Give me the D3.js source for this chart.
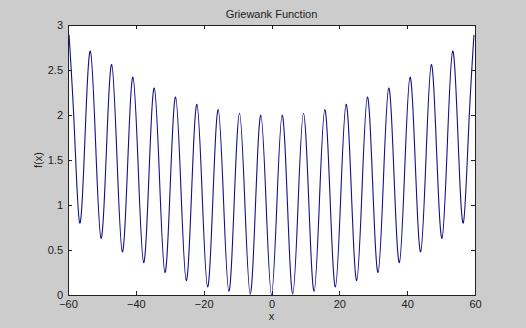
<!DOCTYPE html>
<html><head><meta charset="utf-8">
<script src="https://cdn.jsdelivr.net/npm/d3@7"></script>
<style>body{margin:0;background:#cccccc;}svg{display:block;}</style>
</head><body>
<script>
const xValues = [-59.69,-58.12,-56.55,-54.98,-53.41,-51.84,-50.27,-48.69,-47.12,-45.55,-43.98,-42.41,-40.84,-39.27,-37.70,-36.13,-34.56,-32.99,-31.42,-29.85,-28.27,-26.70,-25.13,-23.56,-21.99,-20.42,-18.85,-17.28,-15.71,-14.14,-12.57,-11.00,-9.42,-7.85,-6.28,-4.71,-3.14,-1.57,0,1.57,3.14,4.71,6.28,7.85,9.42,11.00,12.57,14.14,15.71,17.28,18.85,20.42,21.99,23.56,25.13,26.70,28.27,29.85,31.42,32.99,34.56,36.13,37.70,39.27,40.84,42.41,43.98,45.55,47.12,48.69,50.27,51.84,53.41,54.98,56.55,58.12,59.69];
const yValues = [2.89,1.84,0.80,1.76,2.71,1.67,0.63,1.59,2.56,1.52,0.48,1.45,2.42,1.39,0.36,1.33,2.30,1.27,0.25,1.22,2.20,1.18,0.16,1.14,2.12,1.10,0.09,1.07,2.06,1.05,0.04,1.03,2.02,1.02,0.01,1.01,2.00,1.00,0,1.00,2.00,1.01,0.01,1.02,2.02,1.03,0.04,1.05,2.06,1.07,0.09,1.10,2.12,1.14,0.16,1.18,2.20,1.22,0.25,1.27,2.30,1.33,0.36,1.39,2.42,1.45,0.48,1.52,2.56,1.59,0.63,1.67,2.71,1.76,0.80,1.84,2.89];
const xTicks = [-60,-40,-20,0,20,40,60];
const yTicks = [0,0.5,1,1.5,2,2.5,3];
const yTickLabels = ["0","0.5","1","1.5","2","2.5","3"];
const titleText = "Griewank Function";
const xLabel = "x";
const yLabel = "f(x)";

const W = 526, H = 328;
const L = 68, R = 475, T = 25, B = 295;
const svg = d3.select("body").append("svg").attr("width", W).attr("height", H);
svg.append("rect").attr("width", W).attr("height", H).attr("fill", "#cccccc");
svg.append("rect").attr("x", L).attr("y", T).attr("width", R - L).attr("height", B - T).attr("fill", "#ffffff");

const x = d3.scaleLinear().domain([-60, 60]).range([L, R]);
const y = d3.scaleLinear().domain([0, 3]).range([B, T]);

const font = "Liberation Sans, Arial, sans-serif";

svg.append("clipPath").attr("id", "c").append("rect")
  .attr("x", L).attr("y", T).attr("width", R - L).attr("height", B - T);

const pts = xValues.map((v, i) => [v, yValues[i]]);
svg.append("path").datum(pts)
  .attr("clip-path", "url(#c)")
  .attr("fill", "none").attr("stroke", "#10108a").attr("stroke-width", 1.1)
  .attr("d", d3.line().x(d => x(d[0])).y(d => y(d[1])).curve(d3.curveNatural));

const tk = 4;
const gB = svg.append("g").attr("transform", `translate(0,${B})`)
  .call(d3.axisBottom(x).tickValues(xTicks).tickSize(-tk).tickPadding(5).tickSizeOuter(0));
const gT = svg.append("g").attr("transform", `translate(0,${T})`)
  .call(d3.axisTop(x).tickValues(xTicks).tickSize(-tk).tickFormat("").tickSizeOuter(0));
const gL = svg.append("g").attr("transform", `translate(${L},0)`)
  .call(d3.axisLeft(y).tickValues(yTicks).tickFormat((d, i) => yTickLabels[i]).tickSize(-tk).tickPadding(5).tickSizeOuter(0));
const gR = svg.append("g").attr("transform", `translate(${R},0)`)
  .call(d3.axisRight(y).tickValues(yTicks).tickSize(-tk).tickFormat("").tickSizeOuter(0));
[gB, gT, gL, gR].forEach(g => {
  g.selectAll("path,line").attr("stroke", "#222").attr("stroke-width", 1).attr("shape-rendering", "crispEdges");
  g.selectAll("text").attr("font-family", font).attr("font-size", 11).attr("fill", "#222");
});

svg.append("text").attr("x", (L + R) / 2).attr("y", 18).attr("text-anchor", "middle")
  .attr("font-family", font).attr("font-size", 11).attr("fill", "#222").text(titleText);
svg.append("text").attr("x", (L + R) / 2).attr("y", 320).attr("text-anchor", "middle")
  .attr("font-family", font).attr("font-size", 11).attr("fill", "#222").text(xLabel);
svg.append("text").attr("transform", `translate(42,${(T + B) / 2}) rotate(-90)`).attr("text-anchor", "middle")
  .attr("font-family", font).attr("font-size", 11).attr("fill", "#222").text(yLabel);
</script>
</body></html>
